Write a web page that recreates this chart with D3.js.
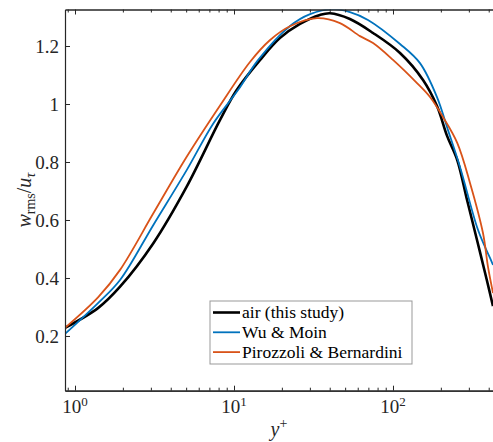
<!DOCTYPE html>
<html>
<head>
<meta charset="utf-8">
<script src="https://cdn.jsdelivr.net/npm/d3@7"></script>
<style>
  body { margin: 0; background: #fff; }
  svg { display: block; }
</style>
</head>
<body>
<svg width="493" height="442"></svg>
<script>
// y+ and w_rms/u_tau
var airYp = [0.865, 1.40, 1.92, 3.11, 5.04, 8.17, 10.4, 14.6, 19.5, 26.0, 34.7, 40.2, 53.6, 74.9, 110.7, 154.5, 189.1, 218.8, 253.5, 292.3, 337.6, 389.1, 425.6];
var airW  = [0.228, 0.297, 0.370, 0.520, 0.715, 0.945, 1.048, 1.152, 1.228, 1.276, 1.307, 1.313, 1.293, 1.245, 1.176, 1.083, 0.993, 0.890, 0.807, 0.669, 0.531, 0.393, 0.303];

var wuYp = [0.865, 1.40, 1.92, 3.11, 5.04, 7.41, 10.6, 14.2, 22.5, 30.1, 42.0, 53.6, 69.6, 110.7, 147.8, 189.1, 221.8, 263.9, 337.6, 378.9, 407.4, 425.6];
var wuW  = [0.207, 0.314, 0.393, 0.583, 0.772, 0.933, 1.048, 1.152, 1.269, 1.310, 1.327, 1.317, 1.290, 1.207, 1.141, 1.024, 0.910, 0.783, 0.576, 0.507, 0.469, 0.445];

var pbYp = [0.865, 1.40, 1.92, 3.11, 5.04, 8.17, 12.6, 16.8, 22.5, 33.3, 46.4, 62.0, 74.9, 100, 141.6, 170.9, 206.3, 253.5, 305.0, 368.1, 395.9, 425.6];
var pbW  = [0.228, 0.334, 0.428, 0.623, 0.818, 0.995, 1.145, 1.220, 1.268, 1.296, 1.279, 1.234, 1.210, 1.152, 1.072, 1.024, 0.955, 0.866, 0.728, 0.555, 0.438, 0.348];

var legendNames = ["air (this study)", "Wu & Moin", "Pirozzoli & Bernardini"];
var yTicks = [0.2, 0.4, 0.6, 0.8, 1, 1.2];
var xMajor = [1, 10, 100];

var FONT = "'Liberation Serif', 'DejaVu Serif', 'Noto Serif', 'Times New Roman', serif";

var svg = d3.select("svg"),
    margin = { top: 9.5, right: 0, bottom: 51.3, left: 65 },
    width = +svg.attr("width") - margin.left - margin.right,
    height = +svg.attr("height") - margin.top - margin.bottom,
    g = svg.append("g").attr("transform", "translate(" + margin.left + "," + margin.top + ")");

var x = d3.scaleLog().domain([0.865, 425.6]).range([0, width]);
var y = d3.scaleLinear().domain([0.0113, 1.3259]).range([height, 0]);

var series = [
    { name: legendNames[0], xs: airYp, ys: airW, color: "#000000", w: 2.6 },
    { name: legendNames[1], xs: wuYp, ys: wuW, color: "#0072BD", w: 1.8 },
    { name: legendNames[2], xs: pbYp, ys: pbW, color: "#D95319", w: 1.8 }
];

svg.append("clipPath").attr("id", "clip")
    .append("rect").attr("x", 0).attr("y", 0).attr("width", width).attr("height", height);

var line = d3.line()
    .x(function (d) { return x(d[0]); })
    .y(function (d) { return y(d[1]); })
    .curve(d3.curveCatmullRom.alpha(0.5));

g.append("g").attr("clip-path", "url(#clip)")
    .selectAll("path")
    .data(series)
    .enter().append("path")
    .attr("fill", "none")
    .attr("stroke", function (d) { return d.color; })
    .attr("stroke-width", function (d) { return d.w; })
    .attr("stroke-linejoin", "round")
    .attr("d", function (d) { return line(d.xs.map(function (v, i) { return [v, d.ys[i]]; })); });

// minor ticks on the log axis
var xMinor = [];
[0.1, 1, 10, 100].forEach(function (dec) {
    for (var k = 2; k <= 9; k++) {
        var v = k * dec;
        if (v >= 0.865 && v <= 425.6) xMinor.push(v);
    }
});

function styleAxis(sel) {
    sel.select(".domain").attr("stroke", "#262626").attr("stroke-width", 1.2);
    sel.selectAll(".tick line").attr("stroke", "#262626").attr("stroke-width", 1);
}

g.append("g")
    .attr("transform", "translate(0," + height + ")")
    .call(d3.axisBottom(x).tickValues(xMajor).tickSize(-5).tickSizeOuter(0).tickFormat(""))
    .call(styleAxis);
g.append("g")
    .attr("transform", "translate(0," + height + ")")
    .call(d3.axisBottom(x).tickValues(xMinor).tickSize(-3).tickSizeOuter(0).tickFormat(""))
    .call(styleAxis);
g.append("g")
    .call(d3.axisTop(x).tickValues(xMajor).tickSize(-5).tickSizeOuter(0).tickFormat(""))
    .call(styleAxis);
g.append("g")
    .call(d3.axisTop(x).tickValues(xMinor).tickSize(-3).tickSizeOuter(0).tickFormat(""))
    .call(styleAxis);

var yAxis = g.append("g")
    .call(d3.axisLeft(y).tickValues(yTicks).tickSize(-5).tickSizeOuter(0).tickPadding(6)
        .tickFormat(function (d) { return d3.format("~g")(d); }))
    .call(styleAxis);
yAxis.selectAll("text")
    .style("font-family", FONT)
    .style("font-size", "19px")
    .style("fill", "#262626");

// x tick labels 10^n
var xl = g.append("g").selectAll("text")
    .data(xMajor)
    .enter().append("text")
    .attr("x", function (d) { return x(d); })
    .attr("y", height + 22.5)
    .attr("text-anchor", "middle")
    .style("font-family", FONT)
    .style("font-size", "19px")
    .style("fill", "#262626");
xl.append("tspan").text("10");
xl.append("tspan").attr("dy", -7).style("font-size", "13px").text(function (d) { return Math.round(Math.log10(d)); });

// axis labels
var xlab = svg.append("text")
    .attr("x", margin.left + width / 2)
    .attr("y", 436)
    .attr("text-anchor", "middle")
    .style("font-family", FONT)
    .style("font-size", "20px")
    .style("fill", "#262626");
xlab.append("tspan").style("font-style", "italic").text("y");
xlab.append("tspan").attr("dy", -8).style("font-size", "14px").text("+");

var ylab = svg.append("text")
    .attr("transform", "translate(31," + (margin.top + height / 2) + ") rotate(-90)")
    .attr("text-anchor", "middle")
    .style("font-family", FONT)
    .style("font-size", "20px")
    .style("fill", "#262626");
ylab.append("tspan").style("font-style", "italic").text("w");
ylab.append("tspan").attr("dy", 4).style("font-size", "14px").text("rms");
ylab.append("tspan").attr("dy", -4).text("/");
ylab.append("tspan").style("font-style", "italic").text("u");
ylab.append("tspan").attr("dy", 4).style("font-size", "14px").style("font-style", "italic").text("τ");

// legend
var legend = svg.append("g").attr("transform", "translate(210,301)");
legend.append("rect")
    .attr("width", 202)
    .attr("height", 63)
    .attr("fill", "#fff")
    .attr("stroke", "#999")
    .attr("stroke-width", 1);

var item = legend.selectAll("g.item")
    .data(series)
    .enter().append("g")
    .attr("class", "item")
    .attr("transform", function (d, i) { return "translate(0," + (11.5 + i * 19.8) + ")"; });

item.append("line")
    .attr("x1", 3).attr("x2", 30)
    .attr("stroke", function (d) { return d.color; })
    .attr("stroke-width", function (d) { return d.w; });

item.append("text")
    .attr("x", 32)
    .attr("dy", "0.32em")
    .style("font-family", FONT)
    .style("font-size", "17.5px")
    .style("fill", "#000")
    .text(function (d) { return d.name; });
</script>
</body>
</html>
